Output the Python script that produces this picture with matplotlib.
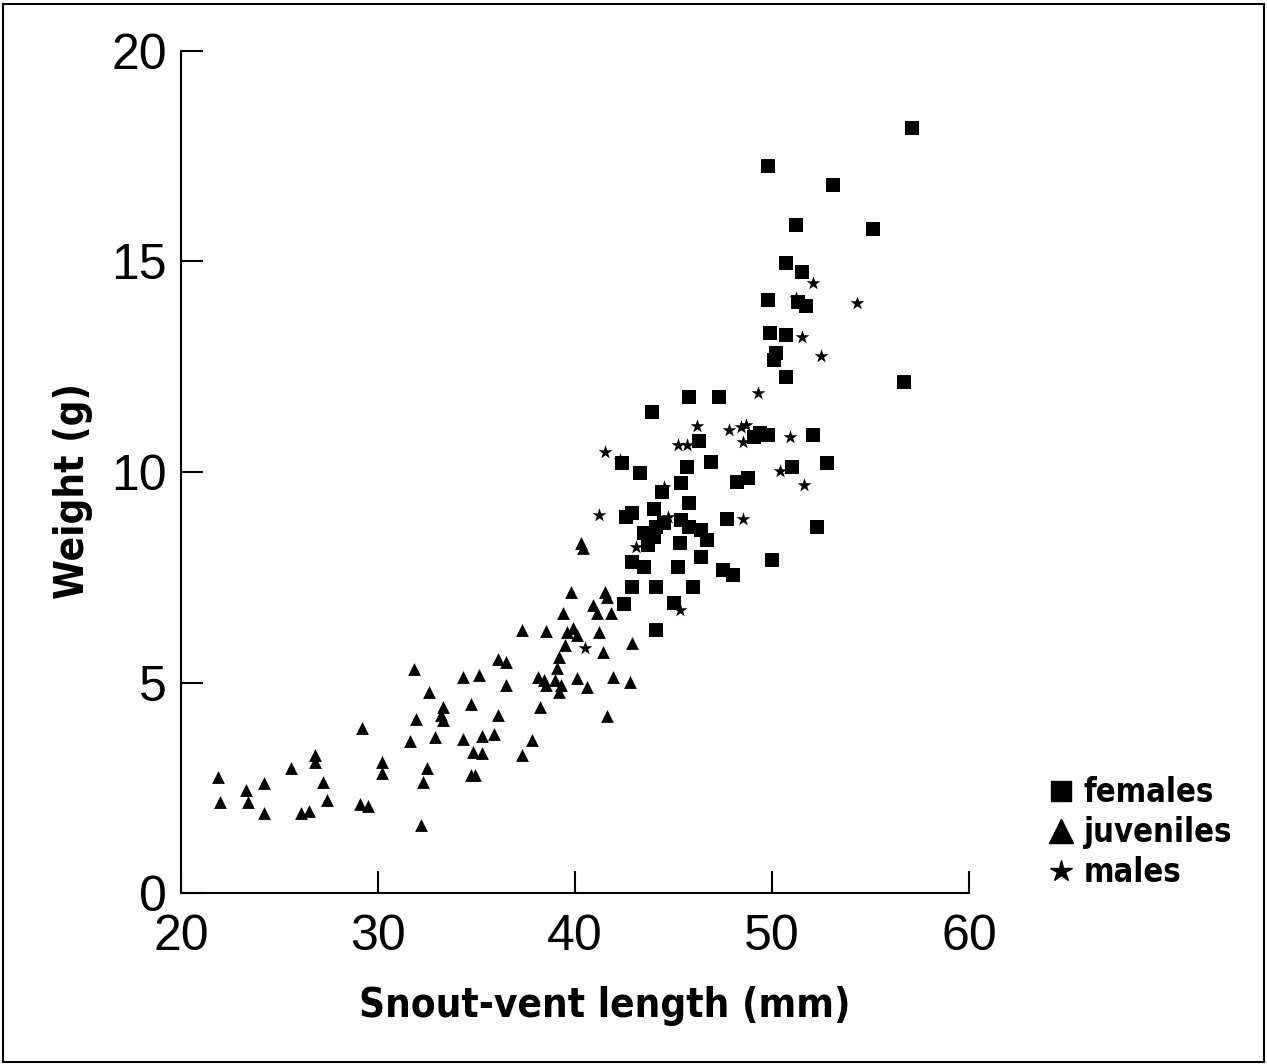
import os
import matplotlib.pyplot as plt
from matplotlib import font_manager
from matplotlib.font_manager import FontProperties
from matplotlib.lines import Line2D
from matplotlib.patches import Rectangle

# snout-vent length (mm) and weight (g)
juv_x = [21.9, 22.0, 23.3, 23.4, 24.2, 24.2, 25.6, 26.1, 26.5, 26.8, 26.8, 27.2,
         27.4, 29.2, 29.1, 29.5, 30.2, 30.2, 31.6, 31.8, 31.9, 32.3, 32.5, 32.2,
         32.6, 32.9, 33.3, 33.2, 33.3, 34.3, 34.3, 34.7, 34.7, 34.9, 34.8, 35.1,
         35.3, 35.3, 35.9, 36.1, 36.5, 36.5, 36.1, 37.3, 37.3, 37.8, 38.2, 38.1,
         38.4, 38.5, 38.5, 39.0, 39.3, 39.2, 39.1, 39.2, 39.5, 39.6, 40.1, 39.4,
         39.8, 40.1, 40.6, 41.2, 40.9, 41.1, 41.5, 41.6, 41.8, 41.4, 41.9, 41.6,
         42.8, 42.9, 40.3, 40.4, 39.9]
juv_y = [2.76, 2.16, 2.45, 2.16, 2.61, 1.90, 2.97, 1.90, 1.95, 3.28, 3.11, 2.64,
         2.21, 3.92, 2.11, 2.07, 3.11, 2.85, 3.61, 5.32, 4.13, 2.64, 2.97, 1.62,
         4.77, 3.71, 4.42, 4.23, 4.11, 5.13, 3.66, 4.49, 2.80, 2.80, 3.35, 5.18,
         3.33, 3.73, 3.78, 5.56, 5.49, 4.94, 4.23, 6.25, 3.28, 3.63, 4.42, 5.13,
         5.06, 4.94, 6.22, 5.06, 4.94, 4.77, 5.34, 5.61, 5.89, 6.20, 6.13, 6.65,
         7.15, 5.11, 4.89, 6.20, 6.84, 6.65, 7.15, 7.03, 6.65, 5.72, 5.13, 4.20,
         5.01, 5.94, 8.31, 8.19, 6.29]

fem_x = [57.1, 49.8, 53.1, 51.2, 55.1, 50.7, 51.5, 49.8, 51.3, 51.7, 49.9, 50.7,
         50.2, 50.1, 50.7, 56.7, 47.3, 45.8, 43.9, 46.3, 49.1, 49.4, 49.8, 52.1,
         46.9, 45.7, 42.4, 43.3, 51.0, 52.8, 45.4, 48.2, 48.8, 44.4, 45.8, 44.0,
         42.6, 42.9, 47.7, 45.4, 44.1, 44.5, 43.5, 44.0, 45.8, 46.4, 46.7, 45.3,
         43.7, 42.9, 43.5, 46.4, 45.2, 47.5, 48.0, 50.0, 52.3, 42.9, 44.1, 46.0,
         42.5, 45.0, 44.1]
fem_y = [18.17, 17.27, 16.82, 15.87, 15.77, 14.96, 14.75, 14.09, 14.04, 13.94, 13.30, 13.25,
         12.83, 12.66, 12.26, 12.14, 11.78, 11.78, 11.43, 10.74, 10.83, 10.93, 10.88, 10.88,
         10.24, 10.12, 10.21, 9.98, 10.12, 10.21, 9.74, 9.76, 9.86, 9.53, 9.26, 9.12,
         8.93, 9.03, 8.88, 8.86, 8.69, 8.79, 8.55, 8.46, 8.69, 8.62, 8.38, 8.31,
         8.27, 7.86, 7.74, 7.98, 7.74, 7.67, 7.55, 7.91, 8.69, 7.27, 7.27, 7.27,
         6.86, 6.89, 6.25]

male_x = [40.5, 41.2, 41.5, 42.3, 43.1, 44.5, 44.7, 45.2, 45.7, 46.2, 45.3, 48.5,
          47.8, 48.4, 48.7, 48.5, 49.3, 50.4, 50.9, 51.6, 51.5, 52.5, 52.1, 51.2,
          54.3]
male_y = [5.82, 8.98, 10.48, 10.29, 8.22, 9.64, 8.93, 10.64, 10.64, 11.09, 6.72, 8.88,
          11.00, 11.07, 11.12, 10.71, 11.88, 10.02, 10.83, 9.69, 13.21, 12.76, 14.49, 14.13,
          14.01]

# look for a narrow bold face for the labels, else plain bold
narrow = None
files = {os.path.basename(f.fname): f.fname for f in font_manager.fontManager.ttflist}
for name in ['LiberationSansNarrow-Bold.ttf', 'DejaVuSansCondensed-Bold.ttf']:
    if name in files:
        narrow = files[name]
        break


def label_props(size):
    if narrow:
        return FontProperties(fname=narrow, size=size)
    return FontProperties(family=['Liberation Sans', 'DejaVu Sans'], weight='bold', size=size)


fig = plt.figure(figsize=(12.67, 10.64), dpi=100)
ax = fig.add_axes([0.1429, 0.1607, 0.622, 0.7914])

ax.scatter(fem_x, fem_y, marker='s', s=95, color='black', linewidths=0, clip_on=False)
ax.scatter(juv_x, juv_y, marker='^', s=85, color='black', linewidths=0, clip_on=False)
ax.scatter(male_x, male_y, marker='*', s=110, color='black', linewidths=0, clip_on=False)

ax.set_xlim(20, 60)
ax.set_ylim(0, 20)
ax.set_xticks([20, 30, 40, 50, 60])
ax.set_yticks([0, 5, 10, 15, 20])

for side in ['top', 'right']:
    ax.spines[side].set_visible(False)
for side in ['left', 'bottom']:
    ax.spines[side].set_linewidth(1.5)

ax.tick_params(direction='in', length=16, width=1.5, labelsize=36)
ax.tick_params(axis='x', pad=15)
ax.tick_params(axis='y', pad=10)
for lab in ax.get_xticklabels() + ax.get_yticklabels():
    lab.set_family(['Liberation Sans', 'DejaVu Sans'])

lab_size = 29 if narrow else 31
ax.set_xlabel('Snout-vent length (mm)', fontproperties=label_props(lab_size))
ax.set_ylabel('Weight (g)', fontproperties=label_props(lab_size))
ax.xaxis.set_label_coords(0.538, -0.11)
ax.yaxis.set_label_coords(-0.112, 0.477)

handles = [
    Line2D([], [], marker='s', color='black', linestyle='none', markersize=15),
    Line2D([], [], marker='^', color='black', linestyle='none', markersize=17),
    Line2D([], [], marker='*', color='black', linestyle='none', markersize=16),
]
leg = fig.legend(handles, ['females', 'juveniles', 'males'],
                 loc='upper left', bbox_to_anchor=(1048 / 1267, 1 - 776 / 1064),
                 frameon=False, handlelength=0.8, handletextpad=0.3,
                 labelspacing=0.22, borderpad=0, borderaxespad=0,
                 prop=label_props(23.5 if narrow else 25))

# thin frame round the whole picture
fig.patches.append(Rectangle((0.002, 0.002), 0.996, 0.994, transform=fig.transFigure,
                             fill=False, edgecolor='black', linewidth=1.5))

fig.savefig('out.png', dpi=100)
